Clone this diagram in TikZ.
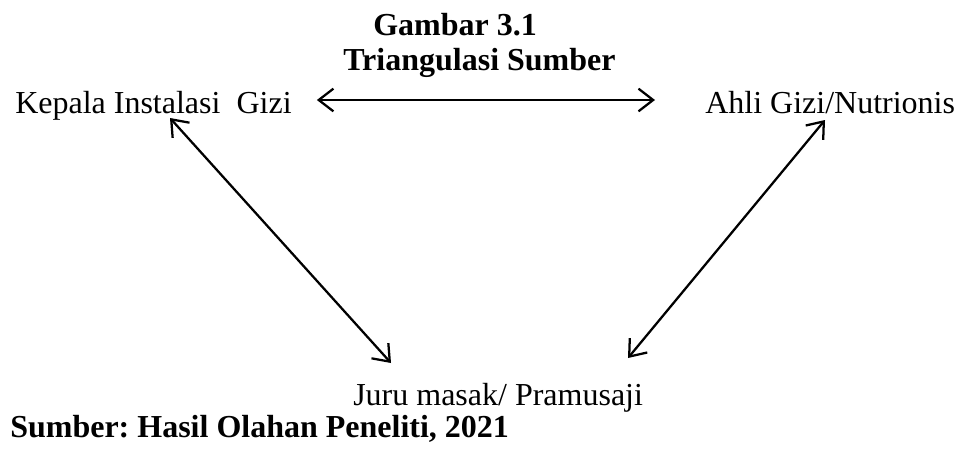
\documentclass[tikz,border=0pt]{standalone}
\usepackage{fontspec}
\setmainfont{Liberation Serif}
\usetikzlibrary{arrows.meta,calc}
\frenchspacing
\begin{document}
\begin{tikzpicture}[x=0.75pt,y=-0.75pt,
  lbl/.style={inner sep=0pt,anchor=base west,font=\fontsize{24}{28}\selectfont},
  ttl/.style={lbl,font=\fontsize{24}{28}\selectfont\bfseries},
  tip/.style={Straight Barb[length=11pt,width=17pt,line width=1.7pt]},
  arr/.style={line width=1.7pt,{Straight Barb[length=11pt,width=17pt,line width=1.7pt]}-{Straight Barb[length=11pt,width=17pt,line width=1.7pt]}}]
\useasboundingbox[fill=white] (0,0) rectangle (957,450);
\node[ttl] (gambar) at (373,35) {Gambar 3.1};
\node[ttl] (judul) at (343,70) {Triangulasi Sumber};
\node[lbl] (kepala) at (15,113) {Kepala Instalasi\ \ Gizi};
\node[lbl] (ahli) at (705,113) {Ahli Gizi/Nutrionis};
\node[lbl] (juru) at (353,405) {Juru masak/ Pramusaji};
\node[ttl] (sumber) at (10,437) {Sumber: Hasil Olahan Peneliti, 2021};
\draw[arr] ($(kepala.base east)+(25,-13)$) -- ($(ahli.base west)+(-50,-13)$);
\draw[arr] ($(kepala.base west)+(155,5)$) -- ($(juru.base west)+(38,-42)$);
\draw[arr] ($(ahli.base west)+(120,7)$) -- ($(juru.base west)+(275,-47)$);
\end{tikzpicture}
\end{document}
